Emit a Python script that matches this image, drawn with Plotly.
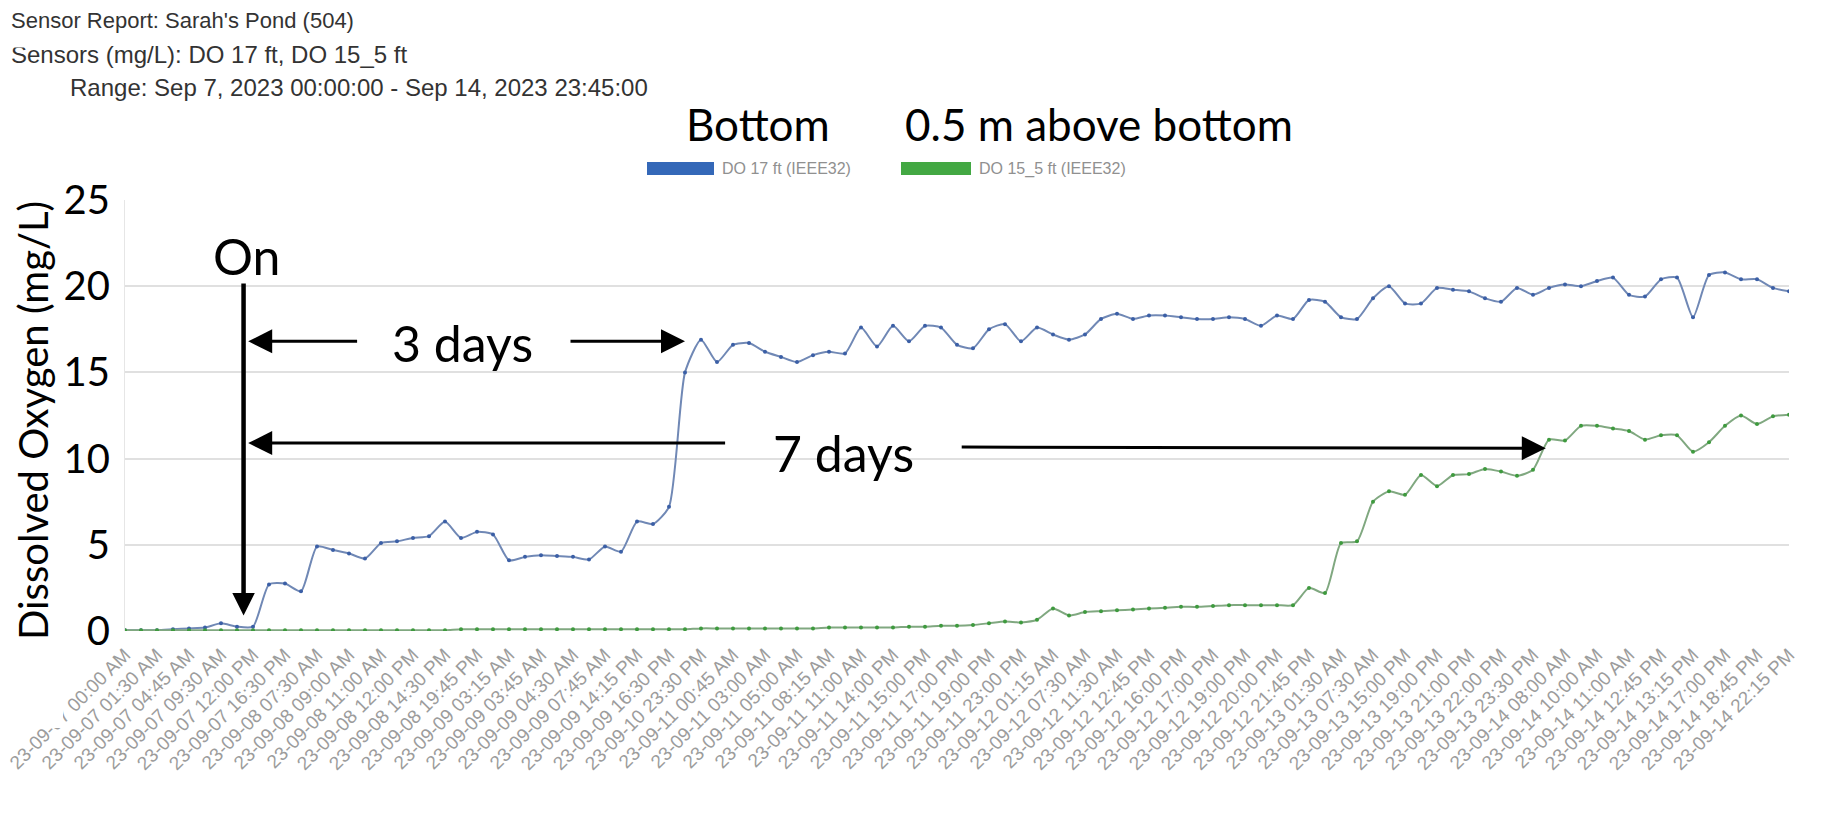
import plotly.graph_objects as go

# ---------------- data ----------------
tick_labels = [
    "23-09-07 00:00 AM", "23-09-07 01:30 AM", "23-09-07 04:45 AM", "23-09-07 09:30 AM",
    "23-09-07 12:00 PM", "23-09-07 16:30 PM", "23-09-08 07:30 AM", "23-09-08 09:00 AM",
    "23-09-08 11:00 AM", "23-09-08 12:00 PM", "23-09-08 14:30 PM", "23-09-08 19:45 PM",
    "23-09-09 03:15 AM", "23-09-09 03:45 AM", "23-09-09 04:30 AM", "23-09-09 07:45 AM",
    "23-09-09 14:15 PM", "23-09-09 16:30 PM", "23-09-10 23:30 PM", "23-09-11 00:45 AM",
    "23-09-11 03:00 AM", "23-09-11 05:00 AM", "23-09-11 08:15 AM", "23-09-11 11:00 AM",
    "23-09-11 14:00 PM", "23-09-11 15:00 PM", "23-09-11 17:00 PM", "23-09-11 19:00 PM",
    "23-09-11 23:00 PM", "23-09-12 01:15 AM", "23-09-12 07:30 AM", "23-09-12 11:30 AM",
    "23-09-12 12:45 PM", "23-09-12 16:00 PM", "23-09-12 17:00 PM", "23-09-12 19:00 PM",
    "23-09-12 20:00 PM", "23-09-12 21:45 PM", "23-09-13 01:30 AM", "23-09-13 07:30 AM",
    "23-09-13 15:00 PM", "23-09-13 19:00 PM", "23-09-13 21:00 PM", "23-09-13 22:00 PM",
    "23-09-13 23:30 PM", "23-09-14 08:00 AM", "23-09-14 10:00 AM", "23-09-14 11:00 AM",
    "23-09-14 12:45 PM", "23-09-14 13:15 PM", "23-09-14 17:00 PM", "23-09-14 18:45 PM",
    "23-09-14 22:15 PM",
]

do_17ft = [
    0.05, 0.05, 0.05, 0.1, 0.15, 0.2, 0.45, 0.25, 0.25,
    2.7, 2.75, 2.3, 4.9, 4.7, 4.5, 4.2, 5.1, 5.2, 5.4, 5.5, 6.35, 5.4, 5.75, 5.6,
    4.1, 4.3, 4.4, 4.35, 4.3, 4.15, 4.9, 4.6, 6.35, 6.2, 7.2, 15.0,
    16.9, 15.6, 16.6, 16.7, 16.2, 15.9, 15.6, 16.0, 16.2, 16.1,
    17.6, 16.5, 17.7, 16.8, 17.7, 17.6, 16.6, 16.4, 17.5, 17.8,
    16.8, 17.6, 17.2, 16.9, 17.2, 18.1, 18.4, 18.1, 18.3, 18.3,
    18.2, 18.1, 18.1, 18.2, 18.1, 17.7, 18.3, 18.1, 19.2, 19.1,
    18.2, 18.1, 19.3, 20.0, 19.0, 19.0, 19.9, 19.8, 19.7, 19.3,
    19.1, 19.9, 19.5, 19.9, 20.1, 20.0, 20.3, 20.5, 19.5, 19.4,
    20.4, 20.5, 18.2, 20.65, 20.8, 20.4, 20.4, 19.9, 19.7,
]

do_15_5ft = [
    0.05, 0.05, 0.05, 0.05, 0.05, 0.05, 0.05, 0.05, 0.05, 0.05,
    0.05, 0.05, 0.05, 0.05, 0.05, 0.05, 0.05, 0.05, 0.05, 0.05, 0.05,
    0.1, 0.1, 0.1, 0.1, 0.1, 0.1, 0.1, 0.1, 0.1, 0.1, 0.1, 0.1, 0.1, 0.1, 0.1,
    0.15, 0.15, 0.15, 0.15, 0.15, 0.15, 0.15, 0.15, 0.2, 0.2, 0.2, 0.2, 0.2,
    0.25, 0.25, 0.3, 0.3, 0.35, 0.45, 0.55, 0.5, 0.65, 1.3, 0.9, 1.1, 1.15,
    1.2, 1.25, 1.3, 1.35, 1.4, 1.4, 1.45, 1.5,
    1.5, 1.5, 1.5, 1.5, 2.5, 2.2, 5.1, 5.2, 7.5, 8.1, 7.9, 9.05, 8.4, 9.05,
    9.1, 9.4, 9.25, 9.0, 9.35, 11.1, 11.05, 11.9, 11.9, 11.75, 11.6, 11.1,
    11.35, 11.35, 10.4, 10.95, 11.9, 12.5, 12.0, 12.45, 12.55,
]

y_ticks = [0, 5, 10, 15, 20, 25]

x_idx = list(range(len(do_17ft)))
tick_pos = x_idx[::2]

BIG = "Lato, 'Open Sans', sans-serif"
SMALL = "'Liberation Sans', Arial, sans-serif"

fig = go.Figure()
fig.add_trace(go.Scatter(
    x=x_idx, y=do_17ft, name="DO 17 ft (IEEE32)", mode="lines+markers",
    line=dict(color="#7088b5", width=2, shape="spline", smoothing=0.6),
    marker=dict(color="#3b5fa6", size=4), showlegend=False,
))
fig.add_trace(go.Scatter(
    x=x_idx, y=do_15_5ft, name="DO 15_5 ft (IEEE32)", mode="lines+markers",
    line=dict(color="#80a880", width=2, shape="spline", smoothing=0.6),
    marker=dict(color="#3e9a3e", size=4), showlegend=False,
))

W, H = 1845, 822
L, R, T, B = 125, 56, 200, 191
PW, PH = W - L - R, H - T - B


def px(xp):
    return (xp - L) / PW


def py(yp):
    return (H - B - yp) / PH


shapes = []
# white boxes that hide gridlines behind the overlay labels
for x0, x1, y0, y1 in [(359, 569, 325, 377), (727, 960, 430, 480), (1290, 1789, 452, 466)]:
    shapes.append(dict(type="rect", xref="paper", yref="paper",
                       x0=px(x0), x1=px(x1), y0=py(y1), y1=py(y0),
                       fillcolor="white", line=dict(width=0), layer="between"))
# box covering part of the first tick label
shapes.append(dict(type="rect", xref="paper", yref="paper",
                   x0=px(0), x1=px(63), y0=py(728), y1=py(600),
                   fillcolor="white", line=dict(width=0), layer="above"))
# legend swatches
shapes.append(dict(type="rect", xref="paper", yref="paper",
                   x0=px(647), x1=px(714), y0=py(175), y1=py(162),
                   fillcolor="#3468b8", line=dict(width=0)))
shapes.append(dict(type="rect", xref="paper", yref="paper",
                   x0=px(901), x1=px(971), y0=py(175), y1=py(162),
                   fillcolor="#43a843", line=dict(width=0)))


def label(text, xp, yp, size, family=BIG, color="black", xanchor="center", **kw):
    d = dict(text=text, xref="paper", yref="paper", x=px(xp), y=py(yp),
             xanchor=xanchor, yanchor="middle", showarrow=False,
             font=dict(family=family, size=size, color=color))
    d.update(kw)
    return d


ann = []
# header lines
ann.append(label("Sensor Report: Sarah's Pond (504)", 9, 21, 22, SMALL, "#333333", "left"))
ann.append(label("Sensors (mg/L): DO 17 ft, DO 15_5 ft", 9, 54, 24, SMALL, "#333333", "left"))
ann.append(label("Range: Sep 7, 2023 00:00:00 - Sep 14, 2023 23:45:00", 68, 87, 24, SMALL, "#333333", "left"))
# white strip clipping the top of the second header line
ann.append(dict(text=" ", xref="paper", yref="paper", x=px(0), y=py(38), xanchor="left",
                yanchor="middle", width=100, height=18, bgcolor="white", borderpad=0,
                showarrow=False, font=dict(size=4)))
# legend texts
ann.append(label("DO 17 ft (IEEE32)", 720, 168.5, 16, SMALL, "#909090", "left"))
ann.append(label("DO 15_5 ft (IEEE32)", 977, 168.5, 16, SMALL, "#909090", "left"))
# overlay labels
ann.append(label("Bottom", 758, 124, 44))
ann.append(label("0.5 m above bottom", 1099, 124, 44))
ann.append(label("Dissolved Oxygen (mg/L)", 33, 421, 40, textangle=-90))
for text, x, y in [("On", 7.6, 21.75), ("3 days", 21.1, 16.7), ("7 days", 44.9, 10.3)]:
    ann.append(dict(text=text, x=x, y=y, xanchor="center", yanchor="middle", showarrow=False,
                    font=dict(family=BIG, size=50, color="black")))
# arrows
arrow_specs = [
    (7.41, 0.9, 7.41, 20.25, 4.5, 1.0),
    (7.7, 16.8, 14.6, 16.8, 3, 1.6),
    (35.0, 16.8, 27.75, 16.8, 3, 1.6),
    (7.7, 10.9, 37.6, 10.9, 3, 1.6),
    (88.8, 10.6, 52.2, 10.67, 3, 1.6),
]
for x, y, ax, ay, w, s in arrow_specs:
    ann.append(dict(text="", x=x, y=y, ax=ax, ay=ay, axref="x", ayref="y",
                    showarrow=True, arrowhead=2, arrowsize=s, arrowwidth=w,
                    arrowcolor="black", standoff=0, startstandoff=0))

fig.update_layout(
    width=W, height=H,
    margin=dict(l=L, r=R, t=T, b=B, autoexpand=False),
    paper_bgcolor="white", plot_bgcolor="white",
    shapes=shapes, annotations=ann, showlegend=False,
    xaxis=dict(range=[0, len(do_17ft) - 1], tickmode="array", tickvals=tick_pos,
               ticktext=tick_labels, tickangle=-45, showgrid=False, zeroline=False,
               ticks="", ticklabelstandoff=8,
               tickfont=dict(family=SMALL, size=19, color="#9c9c9c"),
               showline=False),
    yaxis=dict(range=[0, 25], tickmode="array", tickvals=y_ticks, showgrid=True,
               gridcolor="#e0e0e0", gridwidth=1.5, zeroline=False, ticks="",
               ticklabelstandoff=6, showline=True, linecolor="#e6e6e6", linewidth=1,
               tickfont=dict(family=BIG, size=40, color="black")),
)

fig.write_html("out.html", config={"displayModeBar": False},
               post_script="document.body.style.margin='0';")
